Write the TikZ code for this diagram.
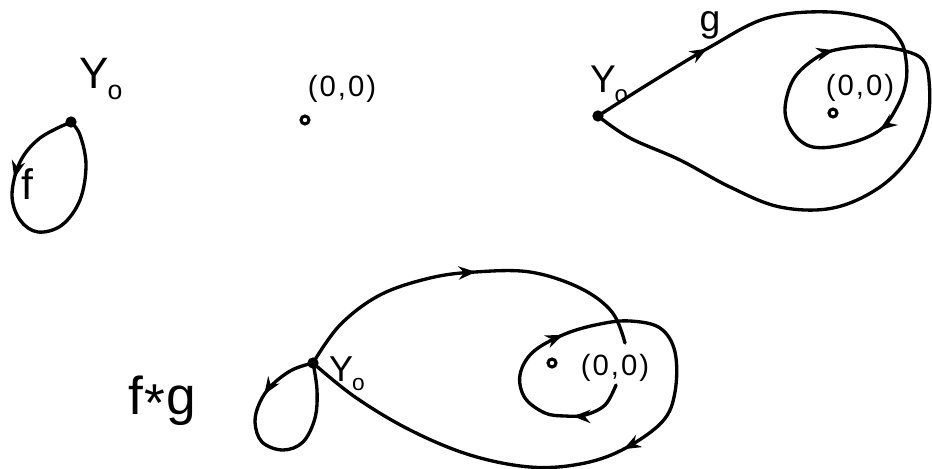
\documentclass[tikz,border=0pt]{standalone}
\usepackage{fontspec}
\setmainfont{Liberation Sans}
\usetikzlibrary{arrows.meta,decorations.markings}
\tikzset{
  curve/.style={line width=2.5pt, line cap=round, line join=round},
  basept/.style={circle, fill=black, inner sep=0pt, minimum size=8.5pt},
  originpt/.style={circle, draw=black, line width=2.3pt, inner sep=0pt, minimum size=6pt},
  lbl/.style={inner sep=0pt},
  >={Stealth[length=13pt,width=10pt]},
}
\newcommand{\Ylab}[2]{\fontsize{#1}{#1}\selectfont Y\kern-0.03em\raisebox{-0.25em}{\fontsize{#2}{#2}\selectfont o}}
\newcommand{\Olab}{\fontsize{22pt}{22pt}\selectfont (\kern1.5pt0\kern1.5pt,\kern1.5pt0\kern1.5pt)}
\begin{document}
\begin{tikzpicture}[x=0.75pt,y=-0.75pt]
\useasboundingbox (0,0) rectangle (932,468);

% ---------- panel 1 : f ----------
\node[basept] (b1) at (71,122) {};
\node[lbl] (y1) at (101,79) {\Ylab{33pt}{20pt}};
\node[lbl] (f1) at (27,184) {\fontsize{32pt}{32pt}\selectfont f};
\draw[curve, postaction={decorate, decoration={markings, mark=at position 0.29 with {\arrow{>}}}}]
  plot[smooth, tension=0.6] coordinates {(b1.center) (40,138) (20,162) (12,195) (20,220) (38,232) (62,225) (80,200) (86,165) (80,135) (b1.center)};

% ---------- panel 2 : origin ----------
\node[originpt] (o2) at (305,120) {};
\node[lbl] (l2) at (342,89) {\Olab};

% ---------- panel 3 : g ----------
\node[basept] (b3) at (598,116) {};
\node[lbl] (y3) at (609,84) {\Ylab{29pt}{18pt}};
\node[lbl] (g3) at (710,25) {\fontsize{28pt}{28pt}\selectfont g};
\node[originpt] (o3) at (833,113) {};
\node[lbl] (l3) at (860,88) {\Olab};
\draw[curve, postaction={decorate, decoration={markings,
    mark=at position 0.108 with {\arrow{>}},
    mark=at position 0.368 with {\arrow{>}},
    mark=at position 0.539 with {\arrow{>}}}}]
  plot[smooth, tension=0.6] coordinates {(b3.center) (650,83) (710,47) (767,18) (830,12) (880,22) (900,40) (906,60) (906,82) (898,105) (880,130) (847,144) (813,147) (793,133) (785,110) (793,80) (813,60) (835,50) (873,46) (905,51) (923,60) (929,80) (928,117) (913,153) (880,187) (833,208) (780,207) (730,187) (680,160) (630,138) (b3.center)};

% ---------- panel 4 : f*g ----------
\node[basept] (b4) at (313,363) {};
\node[lbl] (y4) at (347,374) {\Ylab{27pt}{17pt}};
\node[lbl] (fg) at (162,401) {\fontsize{40pt}{40pt}\selectfont f\kern1pt\raisebox{-0.12em}{*}\kern1pt g};
\node[originpt] (o4) at (552,363) {};
\node[lbl] (l4) at (615,368) {\Olab};
\coordinate (gapA) at (625,343);
\coordinate (gapB) at (616,385);
\draw[curve, postaction={decorate, decoration={markings, mark=at position 0.25 with {\arrow{>}}}}]
  plot[smooth, tension=0.6] coordinates {(b4.center) (292,370) (272,385) (260,402) (255,422) (262,442) (283,450) (303,442) (315,418) (317,390) (b4.center)};
\draw[curve, postaction={decorate, decoration={markings, mark=at position 0.52 with {\arrow{>}}}}]
  plot[smooth, tension=0.6] coordinates {(b4.center) (340,325) (380,295) (430,278) (475,272) (530,272) (580,288) (612,312) (gapA)};
\draw[curve, postaction={decorate, decoration={markings,
    mark=at position 0.073 with {\arrow{>}},
    mark=at position 0.25 with {\arrow{>}},
    mark=at position 0.567 with {\arrow{>}}}}]
  plot[smooth, tension=0.6] coordinates {(gapB) (605,405) (585,415) (565,416) (545,413) (525,398) (520,375) (533,352) (565,334) (600,324) (630,321) (660,328) (675,352) (675,392) (662,422) (622,450) (580,464) (530,467) (470,455) (410,430) (355,397) (b4.center)};
\end{tikzpicture}
\end{document}
